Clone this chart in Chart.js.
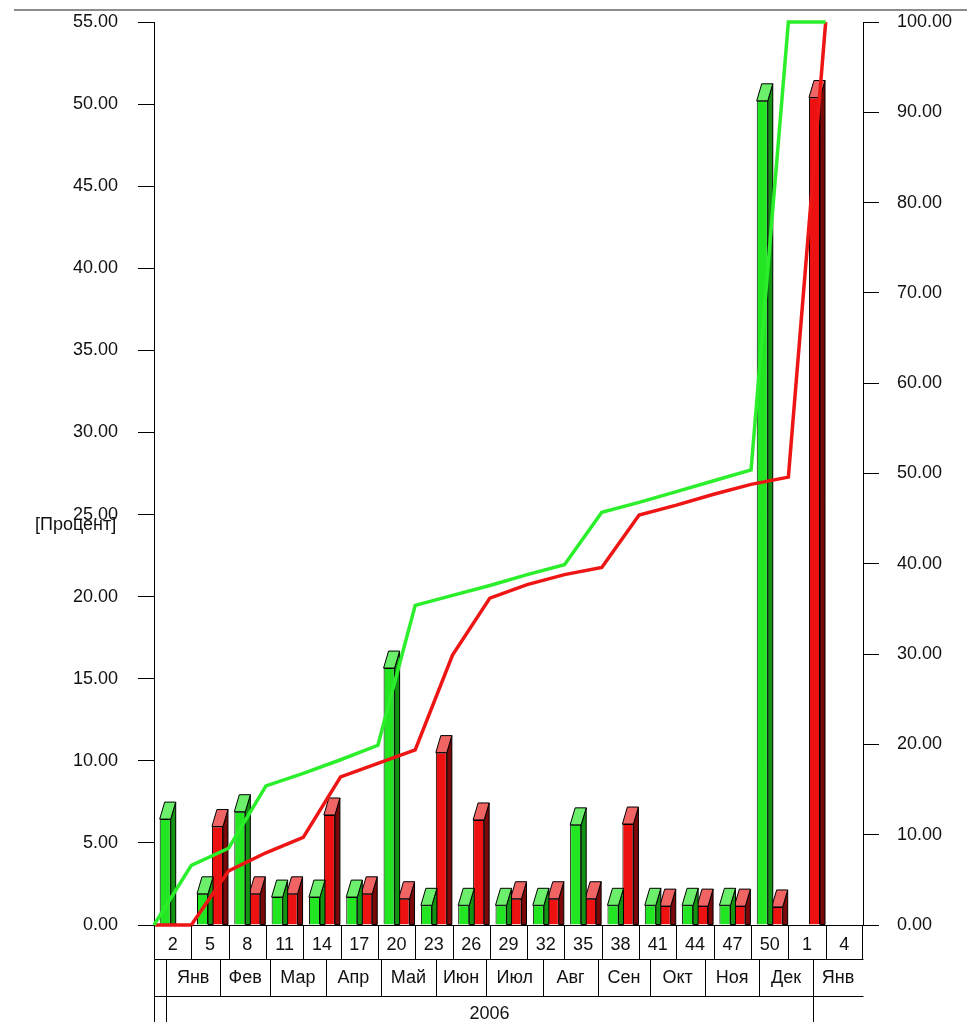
<!DOCTYPE html>
<html lang="ru">
<head>
<meta charset="UTF-8">
<title>Процент по неделям</title>
<script src="https://cdn.jsdelivr.net/npm/chart.js"></script>
<style>
  html, body { margin: 0; padding: 0; background: #fff; }
  #wrap { position: relative; width: 967px; height: 1022px; }
</style>
</head>
<body>
<div id="wrap"><canvas id="chart" width="967" height="1022"></canvas></div>
<script>
// week labels and their position on a running week scale (2006 weeks, then Jan 2007)
const weeks = ['2', '5', '8', '11', '14', '17', '20', '23', '26', '29', '32', '35', '38', '41', '44', '47', '50', '1', '4'];
const weekPos = [2, 5, 8, 11, 14, 17, 20, 23, 26, 29, 32, 35, 38, 41, 44, 47, 50, 53, 56];
// bar values, left axis [Процент]
const greenBars = [6.45, 1.9, 6.9, 1.7, 1.7, 1.7, 15.65, 1.2, 1.2, 1.2, 1.2, 6.1, 1.2, 1.2, 1.2, 1.2, 50.2, 0, null];
const redBars = [0, 6.0, 1.9, 1.9, 6.7, 1.9, 1.6, 10.5, 6.4, 1.6, 1.6, 1.6, 6.15, 1.15, 1.15, 1.15, 1.1, 50.4, null];
// cumulative lines, right axis, taken at the end of each period
const periodEnd = [0.5, 3.5, 6.5, 9.5, 12.5, 15.5, 18.5, 21.5, 24.5, 27.5, 30.5, 33.5, 36.5, 39.5, 42.5, 45.5, 48.5, 51.5, 54.5];
const greenCum = [0, 6.6, 8.5, 15.4, 16.8, 18.3, 19.9, 35.4, 36.5, 37.6, 38.8, 39.9, 45.7, 46.8, 48.0, 49.2, 50.4, 100, 100];
const redCum = [0, 0, 6.0, 8.0, 9.7, 16.4, 17.9, 19.4, 29.9, 36.2, 37.7, 38.8, 39.6, 45.4, 46.5, 47.7, 48.8, 49.6, 100];
// month row (edges in week units) and year row
const monthNames = ['Янв', 'Фев', 'Мар', 'Апр', 'Май', 'Июн', 'Июл', 'Авг', 'Сен', 'Окт', 'Ноя', 'Дек', 'Янв'];
const monthEdges = [1.46, 5.84, 9.83, 14.3, 18.77, 23.15, 27.23, 31.79, 36.17, 40.4, 44.78, 49.16, 53.48, 57.9];
const yearName = '2006';
const yTitle = '[Процент]';

const FONT = '"Liberation Sans", Arial, sans-serif';
const TXT = '#111';

// side + top faces for the bars
const bar3d = {
    id: 'bar3d',
    afterDatasetDraw(chart, args) {
        if (args.meta.type !== 'bar') return;
        const ds = chart.data.datasets[args.index];
        const ctx = chart.ctx;
        const dx = 5, dy = 17;
        ctx.save();
        ctx.lineWidth = 1;
        ctx.strokeStyle = '#000';
        args.meta.data.forEach((el, i) => {
            if (!ds.data[i].y) return;
            const p = el.getProps(['x', 'y', 'base', 'width'], true);
            const l = p.x - p.width / 2, r = p.x + p.width / 2;
            ctx.beginPath();
            ctx.moveTo(r, p.y);
            ctx.lineTo(r + dx, p.y - dy);
            ctx.lineTo(r + dx, p.base);
            ctx.lineTo(r, p.base);
            ctx.closePath();
            ctx.fillStyle = ds.sideColor;
            ctx.fill();
            ctx.stroke();
            ctx.beginPath();
            ctx.moveTo(l, p.y);
            ctx.lineTo(r, p.y);
            ctx.lineTo(r + dx, p.y - dy);
            ctx.lineTo(l + dx, p.y - dy);
            ctx.closePath();
            ctx.fillStyle = ds.topColor;
            ctx.fill();
            ctx.stroke();
        });
        ctx.restore();
    }
};

// week / month / year table under the plot, axis title, window edge
const table = {
    id: 'table',
    afterDraw(chart) {
        const ctx = chart.ctx;
        const a = chart.chartArea;
        const xs = chart.scales.x;
        const px = w => xs.getPixelForValue(w);
        const top = a.bottom, r1 = top + 34, r2 = top + 71, bottom = chart.height;
        const line = (x1, y1, x2, y2) => {
            ctx.beginPath();
            ctx.moveTo(Math.round(x1) + 0.5, Math.round(y1) + 0.5);
            ctx.lineTo(Math.round(x2) + 0.5, Math.round(y2) + 0.5);
            ctx.stroke();
        };
        ctx.save();
        ctx.beginPath();
        ctx.rect(a.left - 1, top, a.right - a.left + 2, bottom - top);
        ctx.clip();
        ctx.strokeStyle = '#000';
        ctx.lineWidth = 1;
        weekPos.forEach(w => line(px(w - 1.5), top, px(w - 1.5), r1));
        line(a.right - 1, top, a.right - 1, r1);
        line(a.left, r1, a.right, r1);
        line(a.left, r2, a.right, r2);
        line(a.left, r1, a.left, bottom);
        monthEdges.forEach(w => line(px(w), r1, px(w), r2));
        line(px(monthEdges[0]), r2, px(monthEdges[0]), bottom);
        line(px(monthEdges[12]), r2, px(monthEdges[12]), bottom);

        ctx.fillStyle = TXT;
        ctx.font = '18px ' + FONT;
        ctx.textAlign = 'center';
        ctx.textBaseline = 'middle';
        monthNames.forEach((m, i) => {
            const x1 = px(monthEdges[i]);
            const x2 = Math.min(px(monthEdges[i + 1]), a.right);
            ctx.fillText(m, (x1 + x2) / 2, (r1 + r2) / 2 + 1);
        });
        ctx.fillText(yearName, (px(monthEdges[0]) + px(monthEdges[12])) / 2, r2 + 18);
        ctx.restore();

        ctx.save();
        ctx.fillStyle = TXT;
        ctx.font = '18px ' + FONT;
        ctx.textAlign = 'left';
        ctx.textBaseline = 'middle';
        ctx.fillText(yTitle, 35, 525);
        ctx.fillStyle = '#8c8c8c';
        ctx.fillRect(14, 9, chart.width - 14, 2);
        ctx.restore();
    }
};

const noPad = s => { s.paddingTop = 0; s.paddingBottom = 0; };

const ctx = document.getElementById('chart').getContext('2d');
new Chart(ctx, {
    type: 'bar',
    data: {
        datasets: [
            {
                type: 'line', yAxisID: 'y2', order: 1,
                data: greenCum.map((v, i) => ({x: periodEnd[i], y: v})),
                borderColor: '#2aef2a', borderWidth: 3.5, pointRadius: 0, tension: 0, clip: 6
            },
            {
                type: 'line', yAxisID: 'y2', order: 1,
                data: redCum.map((v, i) => ({x: periodEnd[i], y: v})),
                borderColor: '#ee1515', borderWidth: 3.5, pointRadius: 0, tension: 0, clip: 6
            },
            {
                data: greenBars.map((v, i) => ({x: weekPos[i], y: v})), yAxisID: 'y', order: 2,
                backgroundColor: '#22e622', sideColor: '#129412', topColor: '#6cf06c',
                borderColor: '#000', borderWidth: c => c.raw && c.raw.y ? 1 : 0,
                categoryPercentage: 0.8, barPercentage: 0.74
            },
            {
                data: redBars.map((v, i) => ({x: weekPos[i], y: v})), yAxisID: 'y', order: 2,
                backgroundColor: '#ee1111', sideColor: '#7a0808', topColor: '#f06464',
                borderColor: '#000', borderWidth: c => c.raw && c.raw.y ? 1 : 0,
                categoryPercentage: 0.8, barPercentage: 0.74
            }
        ]
    },
    options: {
        responsive: false,
        animation: false,
        devicePixelRatio: 1,
        layout: {padding: {top: 22, left: 0, right: 0, bottom: 0}},
        plugins: {legend: {display: false}, tooltip: {enabled: false}},
        scales: {
            x: {
                type: 'linear',
                min: 0.5, max: 57.5,
                offset: false,
                grid: {display: false, drawTicks: false},
                border: {display: true, color: '#000'},
                afterBuildTicks: s => { s.ticks = weekPos.map(v => ({value: v})); },
                ticks: {color: TXT, font: {family: FONT, size: 18}, padding: 9, autoSkip: false, maxRotation: 0,
                        callback: (v, i) => weeks[i]},
                afterFit: s => { s.height = 97; s.paddingLeft = 0; s.paddingRight = 0; }
            },
            y: {
                position: 'left',
                min: 0, max: 55,
                grid: {drawOnChartArea: false, color: '#000', tickLength: 16},
                border: {display: true, color: '#000'},
                ticks: {stepSize: 5, color: TXT, font: {family: FONT, size: 18}, padding: 20,
                        callback: v => v.toFixed(2)},
                afterFit: s => { s.width = 154; noPad(s); }
            },
            y2: {
                position: 'right',
                min: 0, max: 100,
                grid: {drawOnChartArea: false, color: '#000', tickLength: 16},
                border: {display: true, color: '#000'},
                ticks: {stepSize: 10, color: TXT, font: {family: FONT, size: 18}, padding: 18,
                        callback: v => v.toFixed(2)},
                afterFit: s => { s.width = 104; noPad(s); }
            }
        }
    },
    plugins: [bar3d, table]
});
</script>
</body>
</html>
